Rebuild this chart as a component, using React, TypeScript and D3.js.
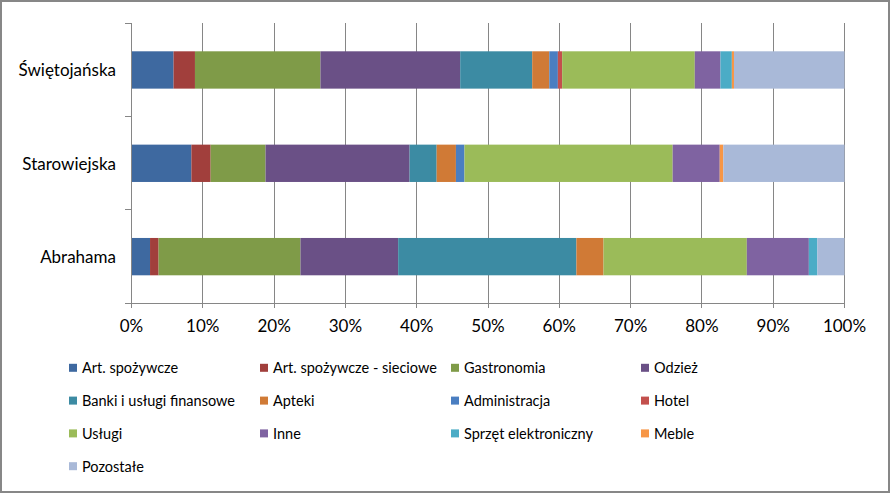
import React from "react";
import * as d3 from "d3";

const categories = ["Świętojańska", "Starowiejska", "Abrahama"];
const seriesNames = [
  "Art. spożywcze",
  "Art. spożywcze - sieciowe",
  "Gastronomia",
  "Odzież",
  "Banki i usługi finansowe",
  "Apteki",
  "Administracja",
  "Hotel",
  "Usługi",
  "Inne",
  "Sprzęt elektroniczny",
  "Meble",
  "Pozostałe",
];
// values per category, in order of categories
const artSpozywcze = [5.9, 8.4, 2.6];
const artSieciowe = [3.0, 2.7, 1.2];
const gastronomia = [17.6, 7.7, 19.9];
const odziez = [19.6, 20.2, 13.7];
const banki = [10.1, 3.8, 25.0];
const apteki = [2.4, 2.7, 3.8];
const administracja = [1.2, 1.2, 0];
const hotel = [0.6, 0, 0];
const uslugi = [18.6, 29.2, 20.1];
const inne = [3.6, 6.6, 8.7];
const sprzet = [1.6, 0, 1.2];
const meble = [0.3, 0.5, 0];
const pozostale = [15.5, 17.0, 3.8];
const seriesValues = [
  artSpozywcze, artSieciowe, gastronomia, odziez, banki, apteki,
  administracja, hotel, uslugi, inne, sprzet, meble, pozostale,
];
const colors = [
  "#3E69A0", "#A13F3C", "#7F9B48", "#6A5086", "#3C8BA3", "#D07A36",
  "#4A7EC1", "#C3504D", "#9BBB59", "#7F63A1", "#4BACC6", "#F79646", "#A9B9D8",
];
const xTicks = [0, 0.1, 0.2, 0.3, 0.4, 0.5, 0.6, 0.7, 0.8, 0.9, 1];

const W = 890, H = 493;
const FONT = "Lato, 'Open Sans', sans-serif";

export default function App() {
  const rows = categories.map((c, i) => {
    const r: any = { cat: c };
    seriesNames.forEach((s, j) => (r[s] = seriesValues[j][i]));
    return r;
  });
  const stack = d3.stack<any>().keys(seriesNames).offset(d3.stackOffsetExpand);
  const stacked = stack(rows);

  const x = d3.scaleLinear().domain([0, 1]).range([131.5, 844.5]);
  const y = d3.scaleBand<string>().domain(categories).range([23.3, 303.3]).paddingInner(0.6).paddingOuter(0.3);
  const step = y.step();
  const grid = "#868686";
  const fmt = d3.format(".0%");

  return (
    <div style={{ position: "fixed", left: 0, top: 0 }}>
      <svg width={W} height={H} style={{ display: "block", fontFamily: FONT }}>
        <rect x={0} y={0} width={W} height={H} fill="#fff" />
        <rect x={1} y={1} width={W - 2} height={H - 2} fill="none" stroke="#878787" strokeWidth={2} />
        {/* gridlines */}
        {xTicks.map((t) => (
          <line key={"g" + t} x1={x(t)} x2={x(t)} y1={23.3} y2={308} stroke={grid} strokeWidth={1} shapeRendering="crispEdges" />
        ))}
        {/* bars */}
        {stacked.map((layer, j) => (
          <g key={layer.key} fill={colors[j]}>
            {layer.map((d, i) => (
              <rect
                key={i}
                x={x(d[0])}
                width={Math.max(0, x(d[1]) - x(d[0]))}
                y={y(categories[i])}
                height={y.bandwidth()}
              />
            ))}
          </g>
        ))}
        {/* axes */}
        <line x1={131.5} x2={131.5} y1={23.3} y2={303.3} stroke={grid} shapeRendering="crispEdges" />
        <line x1={131.5} x2={844.5} y1={303.3} y2={303.3} stroke={grid} shapeRendering="crispEdges" />
        {[0, 1, 2, 3].map((k) => (
          <line key={"yt" + k} x1={125} x2={131.5} y1={23.3 + k * step} y2={23.3 + k * step} stroke={grid} shapeRendering="crispEdges" />
        ))}
        {categories.map((c) => (
          <text key={c} x={116} y={(y(c) as number) + y.bandwidth() / 2} textAnchor="end" dominantBaseline="central" fontSize={17} fill="#000">
            {c}
          </text>
        ))}
        {xTicks.map((t) => (
          <text key={"xl" + t} x={x(t)} y={332} textAnchor="middle" fontSize={17} fill="#000">
            {fmt(t)}
          </text>
        ))}
        {/* legend */}
        {seriesNames.map((s, j) => {
          const col = j % 4;
          const row = Math.floor(j / 4);
          const sx = [69, 260, 451, 641][col];
          const cy = 367.8 + row * 32.8;
          return (
            <g key={s}>
              <rect x={sx} y={cy - 4} width={8} height={8} fill={colors[j]} />
              <text x={sx + 13} y={cy} dominantBaseline="central" fontSize={14.5} fill="#000">
                {s}
              </text>
            </g>
          );
        })}
      </svg>
    </div>
  );
}
